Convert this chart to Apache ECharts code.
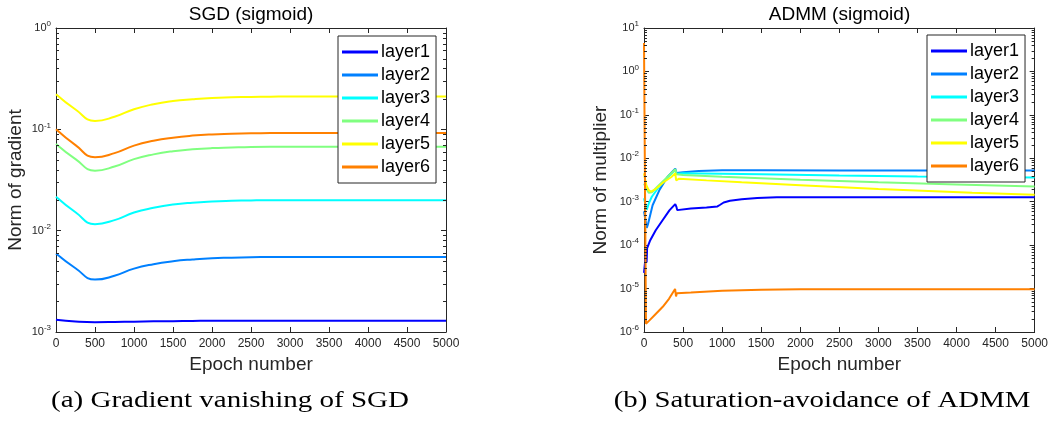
<!DOCTYPE html>
<html><head><meta charset="utf-8">
<script src="https://cdn.jsdelivr.net/npm/echarts@6/dist/echarts.min.js"></script>
<style>html,body{margin:0;padding:0;background:#fff}#c{width:1051px;height:424px}</style>
</head><body><div id="c"></div>
<script>
// ---------- data ----------
const layerNames = ['layer1', 'layer2', 'layer3', 'layer4', 'layer5', 'layer6'];
const layerColors = ['#0000ff', '#0080ff', '#00ffff', '#80ff80', '#ffff00', '#ff8000'];
const xTickStep = 500;

// (a) SGD: norm of gradient per layer
const sgdEpochs = [0, 250, 500, 750, 1000, 1250, 1500, 1750, 2000, 2250, 2500, 2750, 3000, 3500, 4000, 4500, 5000];
const sgdLayer1 = [0.00132, 0.00127, 0.00125, 0.001255, 0.001265, 0.001275, 0.00128, 0.001285, 0.00129, 0.00129, 0.00129, 0.00129, 0.00129, 0.00129, 0.00129, 0.00129, 0.00129];
const sgdLayer2 = [0.00595, 0.00426, 0.00329, 0.00359, 0.00422, 0.00467, 0.00499, 0.00520, 0.00535, 0.00541, 0.00547, 0.00550, 0.00551, 0.00551, 0.00551, 0.00551, 0.00551];
const sgdLayer3 = [0.0216, 0.0152, 0.0116, 0.0127, 0.0151, 0.0168, 0.0181, 0.0189, 0.0194, 0.0197, 0.0199, 0.0200, 0.0200, 0.0200, 0.0200, 0.0200, 0.0200];
const sgdLayer4 = [0.0718, 0.0509, 0.0391, 0.0429, 0.0508, 0.0566, 0.0608, 0.0635, 0.0653, 0.0662, 0.0670, 0.0674, 0.0675, 0.0675, 0.0675, 0.0675, 0.0675];
const sgdLayer5 = [0.222, 0.157, 0.121, 0.133, 0.158, 0.177, 0.190, 0.198, 0.204, 0.207, 0.209, 0.210, 0.211, 0.211, 0.211, 0.211, 0.211];
const sgdLayer6 = [0.100, 0.0698, 0.0530, 0.0582, 0.0690, 0.0771, 0.0828, 0.0867, 0.0891, 0.0903, 0.0913, 0.0918, 0.0920, 0.0920, 0.0920, 0.0920, 0.0920];

// (b) ADMM: norm of multiplier per layer, [epoch, value]
const admmLayer1 = [[0, 2.3e-5], [28, 7.5e-5], [33, 4.0e-5], [40, 8.5e-5], [80, 1.3e-4], [150, 2.2e-4], [240, 3.8e-4], [325, 6.3e-4], [400, 8.8e-4], [415, 7.6e-4], [425, 6.4e-4], [450, 6.8e-4], [600, 7.0e-4], [800, 7.4e-4], [940, 7.8e-4], [970, 8.4e-4], [990, 8.2e-4], [1020, 9.6e-4], [1100, 1.05e-3], [1250, 1.14e-3], [1450, 1.22e-3], [1700, 1.26e-3], [2000, 1.27e-3], [5000, 1.27e-3]];
const admmLayer2 = [[0, 6e-4], [35, 2.5e-4], [50, 3.0e-4], [110, 8.3e-4], [200, 1.9e-3], [300, 3.7e-3], [400, 5.8e-3], [415, 4.6e-3], [500, 4.8e-3], [700, 5.1e-3], [1000, 5.3e-3], [1500, 5.3e-3], [2500, 5.25e-3], [5000, 5.2e-3]];
const admmLayer3 = [[0, 1.2e-3], [35, 6.5e-4], [60, 9e-4], [100, 1.3e-3], [200, 2.3e-3], [300, 3.6e-3], [400, 5.4e-3], [415, 4.4e-3], [500, 4.5e-3], [1500, 4.3e-3], [2500, 4.0e-3], [3500, 3.8e-3], [5000, 3.6e-3]];
const admmLayer4 = [[0, 2.6e-3], [30, 2.0e-3], [60, 1.6e-3], [100, 1.65e-3], [200, 2.5e-3], [300, 3.7e-3], [400, 5.6e-3], [415, 4.3e-3], [500, 4.1e-3], [1000, 3.75e-3], [2000, 3.2e-3], [3000, 2.8e-3], [4000, 2.5e-3], [5000, 2.25e-3]];
const admmLayer5 = [[0, 4.5e-3], [30, 2.4e-3], [60, 1.85e-3], [90, 1.7e-3], [150, 1.95e-3], [250, 2.8e-3], [350, 3.7e-3], [400, 4.5e-3], [412, 3.1e-3], [450, 3.4e-3], [800, 3.1e-3], [1250, 2.8e-3], [2000, 2.4e-3], [3000, 1.95e-3], [4200, 1.6e-3], [5000, 1.45e-3]];
const admmLayer6 = [[0, 4.5], [25, 1.55e-6], [70, 1.85e-6], [150, 2.6e-6], [240, 3.8e-6], [320, 5.8e-6], [398, 9.8e-6], [410, 6.6e-6], [420, 7.8e-6], [440, 7.6e-6], [600, 8.1e-6], [1000, 8.9e-6], [1500, 9.4e-6], [2000, 9.6e-6], [5000, 9.6e-6]];

const sgdYRange = [1e-3, 1];
const admmYRange = [1e-6, 10];
const xRange = [0, 5000];

const titles = ['SGD (sigmoid)', 'ADMM (sigmoid)'];
const yNames = ['Norm of gradient', 'Norm of multiplier'];
const xName = 'Epoch number';
const captions = ['(a) Gradient vanishing of SGD', '(b) Saturation-avoidance of ADMM'];

// ---------- chart ----------
const AX = '#262626';
const SANS = '"Liberation Sans", Arial, sans-serif';
const grids = [
  {left: 56, right: 605, top: 28, bottom: 92},
  {left: 644, right: 16, top: 28, bottom: 92}
];

function minorValues(range) {
  const out = [];
  const lo = Math.round(Math.log10(range[0])), hi = Math.round(Math.log10(range[1]));
  for (let e = lo; e < hi; e++) for (let k = 2; k <= 9; k++) out.push([xRange[0], k * Math.pow(10, e)]);
  return out;
}

function xAxes(g) {
  const base = {
    type: 'value', gridIndex: g, min: xRange[0], max: xRange[1], interval: xTickStep,
    axisLine: {show: true, onZero: false, lineStyle: {color: AX, width: 1}},
    axisTick: {show: true, inside: true, length: 5, lineStyle: {color: AX}},
    splitLine: {show: false}
  };
  return [
    Object.assign({}, base, {position: 'bottom',
      axisLabel: {show: true, color: AX, fontSize: 12, margin: 6, fontFamily: SANS, formatter: v => String(v)},
      name: xName, nameLocation: 'middle', nameGap: 23,
      nameTextStyle: {fontSize: 19, color: AX, fontFamily: SANS}}),
    Object.assign({}, base, {position: 'top', axisLabel: {show: false}})
  ];
}

function yAxes(g, range, gap) {
  const base = {
    type: 'log', logBase: 10, gridIndex: g, min: range[0], max: range[1],
    axisLine: {show: true, onZero: false, lineStyle: {color: AX, width: 1}},
    axisTick: {show: true, inside: true, length: 5, lineStyle: {color: AX}},
    splitLine: {show: false}
  };
  return [
    Object.assign({}, base, {position: 'left',
      axisLabel: {show: true, margin: 5,
        formatter: v => '{b|10}{s|' + Math.round(Math.log10(v)) + '}',
        rich: {
          b: {fontSize: 11, color: AX, fontFamily: SANS},
          s: {fontSize: 8, color: AX, fontFamily: SANS, padding: [0, 0, 8, 0]}
        }},
      name: yNames[g], nameLocation: 'middle', nameGap: gap,
      nameTextStyle: {fontSize: 19, color: AX, fontFamily: SANS}}),
    Object.assign({}, base, {position: 'right', axisLabel: {show: false}})
  ];
}

function minorSeries(g, range) {
  return {
    type: 'custom', xAxisIndex: g * 2, yAxisIndex: g * 2, silent: true, clip: false, z: 5,
    data: minorValues(range), encode: {x: 0, y: 1},
    renderItem: (params, api) => {
      const v = api.value(1);
      const pl = api.coord([xRange[0], v]);
      const pr = api.coord([xRange[1], v]);
      const y = Math.round(pl[1]) + 0.5;
      const st = {stroke: AX, lineWidth: 1};
      return {type: 'group', children: [
        {type: 'line', shape: {x1: pl[0], y1: y, x2: pl[0] + 3, y2: y}, style: st},
        {type: 'line', shape: {x1: pr[0] - 3, y1: y, x2: pr[0], y2: y}, style: st}
      ]};
    }
  };
}

const sgdData = [sgdLayer1, sgdLayer2, sgdLayer3, sgdLayer4, sgdLayer5, sgdLayer6];
const admmData = [admmLayer1, admmLayer2, admmLayer3, admmLayer4, admmLayer5, admmLayer6];

const series = [];
sgdData.forEach((arr, i) => series.push({
  name: layerNames[i], type: 'line', xAxisIndex: 0, yAxisIndex: 0,
  data: arr.map((v, j) => [sgdEpochs[j], v]),
  symbol: 'none', showSymbol: false, smooth: 0.5,
  lineStyle: {color: layerColors[i], width: 2}, itemStyle: {color: layerColors[i]}
}));
admmData.forEach((arr, i) => series.push({
  name: layerNames[i], type: 'line', xAxisIndex: 2, yAxisIndex: 2,
  data: arr, symbol: 'none', showSymbol: false,
  lineStyle: {color: layerColors[i], width: 2}, itemStyle: {color: layerColors[i]}
}));
series.push(minorSeries(0, sgdYRange));
series.push(minorSeries(1, admmYRange));

const legendBase = {
  data: layerNames.map(n => ({name: n, icon: 'rect'})),
  orient: 'vertical', itemWidth: 36, itemHeight: 3, itemGap: 5,
  backgroundColor: '#fff', borderColor: AX, borderWidth: 1,
  padding: [7, 6, 7, 4], selectedMode: false,
  textStyle: {fontSize: 18, color: '#000', fontFamily: SANS, padding: [0, 0, 0, -2]}
};

const capFont = '24px "Liberation Serif", "Times New Roman", serif';
const chart = echarts.init(document.getElementById('c'), null, {renderer: 'canvas'});
chart.setOption({
  animation: false,
  backgroundColor: '#fff',
  grid: grids,
  xAxis: [...xAxes(0), ...xAxes(1)],
  yAxis: [...yAxes(0, sgdYRange, 31), ...yAxes(1, admmYRange, 34)],
  legend: [
    Object.assign({}, legendBase, {left: 338, top: 36}),
    Object.assign({}, legendBase, {left: 927, top: 35})
  ],
  graphic: [
    {type: 'text', x: 251, y: 15, style: {text: titles[0], font: '19px ' + SANS, fill: '#000', align: 'center', verticalAlign: 'middle'}},
    {type: 'text', x: 839.5, y: 15, style: {text: titles[1], font: '19px ' + SANS, fill: '#000', align: 'center', verticalAlign: 'middle'}},
    {type: 'text', x: 230, y: 401, scaleX: 1.21, style: {text: captions[0], font: capFont, fill: '#000', align: 'center', verticalAlign: 'middle'}},
    {type: 'text', x: 822, y: 401, scaleX: 1.2, style: {text: captions[1], font: capFont, fill: '#000', align: 'center', verticalAlign: 'middle'}}
  ],
  series: series
});
</script></body></html>
